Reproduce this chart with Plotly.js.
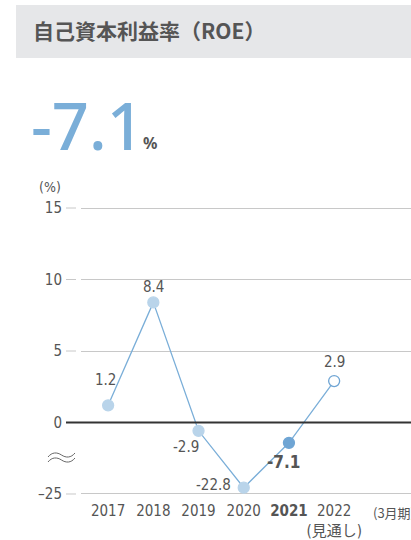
<!DOCTYPE html>
<html><head><meta charset="utf-8">
<script src="https://cdn.plot.ly/plotly-3.0.1.min.js"></script>
<style>html,body{margin:0;padding:0;background:#fff}#chart{width:411px;height:540px}</style>
</head><body><div id="chart"></div>
<script>
const years = ['2017','2018','2019','2020','2021','2022'];
const yearLabels = ['2017','2018','2019','2020','<b>2021</b>','2022<br>(見通し)'];
const roe = [1.2, 8.4, -2.9, -22.8, -7.1, 2.9];
const roeLabels = ['1.2','8.4','-2.9','-22.8','<b>-7.1</b>','2.9'];
const yTickValues = [-25, 0, 5, 10, 15];
const yTickLabels = ['–25','0','5','10','15'];
const headline = '-7.1';

// broken axis: negatives compressed by 5
const BREAK = 5;
const tf = v => v < 0 ? v / BREAK : v;

const labelShift = [[-3,25],[0,15],[-13,-16],[-30,3],[-5,-19],[0,19]];
const labelSize = [15,15,15,15,17,15];

const FONT = '"Liberation Sans Narrow","DejaVu Sans Condensed","Noto Sans","Noto Sans CJK JP",sans-serif';
const BIG = '"Noto Sans","Open Sans",sans-serif';
const JP = '"Noto Sans CJK JP","Noto Sans",sans-serif';
const grey = '#555';

const trace = {
  x: years.map((_, i) => i), y: roe.map(tf), type: 'scatter', mode: 'lines+markers',
  line: {color: '#7aaed8', width: 1.3},
  marker: {size: 11,
    color: ['#b9d4ea','#b9d4ea','#b9d4ea','#b9d4ea','#6fa5d4','#ffffff'],
    line: {color: ['#b9d4ea','#b9d4ea','#b9d4ea','#b9d4ea','#6fa5d4','#6fa5d4'], width: 1.3}},
  hoverinfo: 'skip', cliponaxis: false
};

const W = 411, L = 81, PW = 330, T = 200, PH = 300;
const px = x => (x - L) / PW;
const py = y => (T + PH - y) / PH;

const shapes = [
  {type:'rect', xref:'paper', yref:'paper', x0:px(16), x1:1.01, y0:py(58), y1:py(5), fillcolor:'#e6e7e9', line:{width:0}, layer:'below'},
];
yTickValues.forEach(v => {
  if (v === 0) {
    shapes.push({type:'line', xref:'paper', yref:'y', x0:px(66), x1:1, y0:0, y1:0, line:{color:'#333', width:2}});
  } else {
    shapes.push({type:'line', xref:'paper', yref:'y', x0:px(66), x1:px(76), y0:tf(v), y1:tf(v), line:{color:'#c8c8c8', width:1}});
  }
});
// axis-break wave symbol
[0, 5].forEach(d => {
  const p = (x, y) => px(x).toFixed(4) + ',' + py(y + d).toFixed(4);
  shapes.push({type:'path', xref:'paper', yref:'paper',
    path: 'M' + p(48,457) + ' C' + p(52,452) + ' ' + p(57,452) + ' ' + p(61.5,455) + ' C' + p(66,458) + ' ' + p(71,458) + ' ' + p(75,453),
    line:{color:'#666', width:1}});
});

const annotations = roe.map((v,i) => ({
  x: i, y: tf(v), text: roeLabels[i], showarrow:false,
  xshift: labelShift[i][0], yshift: labelShift[i][1],
  font:{family:FONT, size:labelSize[i], color:grey}
}));
annotations.push(
  {xref:'paper', yref:'paper', x:px(29), y:py(125), xanchor:'left', yanchor:'middle', text:headline, showarrow:false,
   font:{family:BIG, size:65, color:'#7aaed8', weight:500}},
  {xref:'paper', yref:'paper', x:px(141), y:py(143), xanchor:'left', yanchor:'middle', text:'<b>%</b>', showarrow:false,
   font:{family:BIG, size:16, color:grey}},
  {xref:'paper', yref:'paper', x:px(50), y:py(187), xanchor:'center', yanchor:'middle', text:'(%)', showarrow:false,
   font:{family:FONT, size:14, color:grey}},
  {xref:'paper', yref:'paper', x:px(371), y:py(512), xanchor:'left', yanchor:'middle', text:'(3月期)', showarrow:false,
   font:{family:JP, size:13, color:grey}}
);

const layout = {
  width: W, height: 540, margin:{l:L, r:0, t:T, b:40},
  paper_bgcolor:'#fff', plot_bgcolor:'#fff', showlegend:false,
  title:{text:'自己資本利益率（ROE）', x:33/W, xanchor:'left', xref:'container', y:1-32/540, yanchor:'middle', yref:'container',
    font:{family:JP, size:21, color:grey, weight:700}},
  xaxis:{range:[-0.6, 6.7], tickvals:years.map((_, i) => i), ticktext:yearLabels, tickangle:0, showgrid:false, zeroline:false,
    showline:false, ticks:'', tickfont:{family:FONT, size:15, color:grey}, fixedrange:true},
  yaxis:{range:[-5.42, 15.56], tickvals:yTickValues.map(tf), ticktext:yTickLabels, showgrid:true, gridcolor:'#c8c8c8', gridwidth:1,
    zeroline:false, showline:false, ticks:'', ticklabelstandoff:18, tickfont:{family:FONT, size:15, color:grey}, fixedrange:true},
  shapes, annotations
};
Plotly.newPlot('chart', [trace], layout, {displayModeBar:false, staticPlot:true});
</script></body></html>
